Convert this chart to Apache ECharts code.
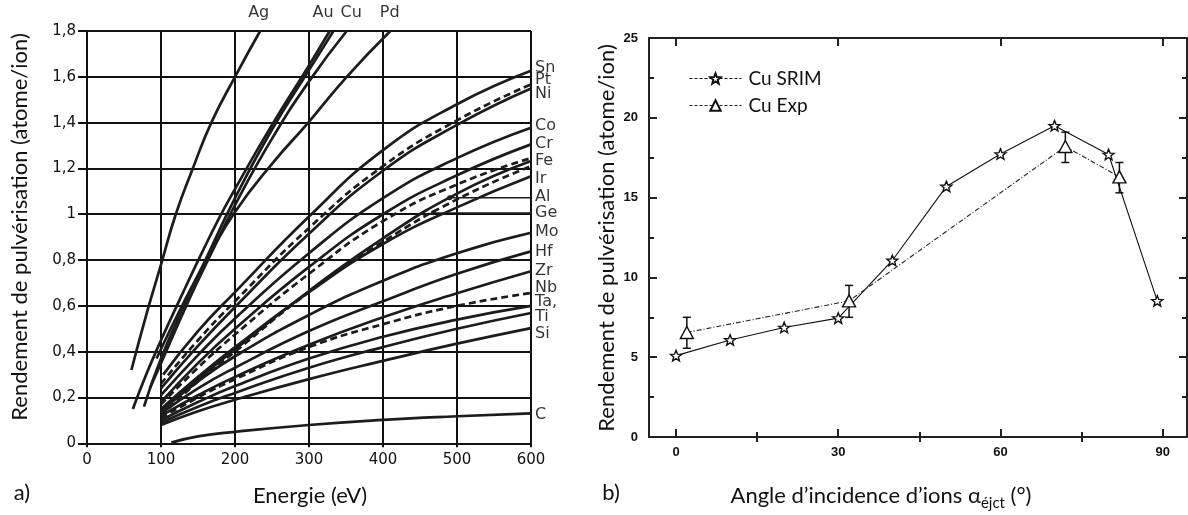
<!DOCTYPE html>
<html><head><meta charset="utf-8">
<script src="https://cdn.jsdelivr.net/npm/echarts@6/dist/echarts.min.js"></script>
<style>html,body{margin:0;padding:0;background:#fff}#c{width:1188px;height:515px}</style>
</head><body><div id="c"></div>
<script>
// ---------- Panel a) : sputtering yield vs ion energy ----------
const energyTicks = [0, 100, 200, 300, 400, 500, 600];
const yieldTicksA = [0, 0.2, 0.4, 0.6, 0.8, 1, 1.2, 1.4, 1.6, 1.8];

const curveAg  = [[60,0.32],[80,0.56],[100,0.78],[120,1.0],[143,1.2],[168,1.4],[200,1.6],[234,1.8]];
const curveAu  = [[62,0.15],[80,0.30],[100,0.45],[130,0.66],[155,0.83],[178,0.98],[200,1.11],[250,1.39],[300,1.65],[328,1.8]];
const curveAu2 = [[77,0.16],[100,0.37],[135,0.63],[160,0.80],[200,1.07],[250,1.37],[300,1.63],[333,1.8]];
const curveCu  = [[85,0.24],[100,0.35],[137,0.62],[165,0.81],[200,1.04],[250,1.33],[300,1.58],[351,1.8]];
const curvePd  = [[94,0.37],[133,0.63],[165,0.82],[200,1.01],[250,1.22],[299,1.40],[351,1.60],[410,1.8]];
const curveSn  = [[103,0.30],[150,0.49],[200,0.66],[300,0.99],[400,1.28],[500,1.48],[600,1.626]];
const curvePt  = [[100,0.26],[150,0.45],[200,0.62],[300,0.94],[400,1.21],[500,1.41],[600,1.567]];
const curveNi  = [[100,0.24],[150,0.425],[200,0.595],[300,0.915],[400,1.19],[500,1.39],[600,1.549]];
const curveCo  = [[100,0.21],[150,0.385],[200,0.545],[300,0.83],[400,1.07],[500,1.245],[600,1.378]];
const curveCr  = [[100,0.18],[150,0.35],[200,0.50],[300,0.77],[400,1.0],[500,1.17],[600,1.305]];
const curveFe  = [[100,0.17],[150,0.33],[200,0.475],[300,0.74],[400,0.97],[500,1.13],[600,1.245]];
const curveAl  = [[100,0.14],[150,0.28],[200,0.41],[300,0.665],[400,0.895],[500,1.09],[600,1.232]];
const curveIr  = [[100,0.15],[150,0.29],[200,0.42],[300,0.66],[400,0.87],[500,1.03],[600,1.166]];
const curveGe  = [[100,0.12],[150,0.27],[200,0.40],[300,0.66],[400,0.88],[500,1.065],[600,1.21]];
const curveMo  = [[100,0.14],[150,0.27],[200,0.38],[300,0.56],[400,0.71],[500,0.83],[600,0.919]];
const curveHf  = [[100,0.13],[150,0.24],[200,0.33],[300,0.49],[400,0.62],[500,0.74],[600,0.838]];
const curveZr  = [[100,0.12],[150,0.21],[200,0.29],[300,0.43],[400,0.55],[500,0.655],[600,0.751]];
const curveNb  = [[100,0.11],[150,0.20],[200,0.28],[300,0.42],[400,0.52],[500,0.60],[600,0.656]];
const curveTa  = [[100,0.10],[150,0.18],[200,0.25],[300,0.37],[400,0.465],[500,0.54],[600,0.60]];
const curveTi  = [[100,0.09],[150,0.16],[200,0.22],[300,0.33],[400,0.42],[500,0.50],[600,0.569]];
const curveSi  = [[100,0.08],[150,0.14],[200,0.19],[300,0.28],[400,0.36],[500,0.435],[600,0.503]];
const curveC   = [[114,0.003],[150,0.03],[200,0.05],[300,0.08],[400,0.102],[500,0.118],[600,0.131]];

const sideLabels  = ['Sn','Pt','Ni','Co','Cr','Fe','Ir','Al','Ge','Mo','Hf','Zr','Nb','Ta,','Ti','Si','C'];
const sideLabelY  = [1.640,1.585,1.524,1.388,1.309,1.232,1.156,1.076,1.006,0.922,0.838,0.751,0.678,0.619,0.551,0.478,0.124];
const topLabels   = ['Ag','Au','Cu','Pd'];
const topLabelE   = [232,319,357,409];
const topLabelY   = 1.878;
const leaderAl    = [[490,1.072],[600,1.072]];
const leaderGe    = [[468,1.006],[600,1.006]];

// ---------- Panel b) : yield vs incidence angle ----------
const angleTicks  = [0, 30, 60, 90];
const angleMinor  = [15, 45, 75];
const srimAngle   = [0, 10, 20, 30, 40, 50, 60, 70, 80, 89];
const srimYield   = [5.1, 6.08, 6.86, 7.45, 11.06, 15.7, 17.73, 19.5, 17.7, 8.53];
const expAngle    = [2, 32, 72, 82];
const expYield    = [6.55, 8.53, 18.2, 16.3];
const expErrLow   = [5.56, 7.5, 17.2, 15.3];
const expErrHigh  = [7.5, 9.5, 19.1, 17.2];

const chart = echarts.init(document.getElementById('c'), null, {renderer:'canvas'});

const curveList = [
  ['Ag',curveAg,false],['Au',curveAu,false],['Au2',curveAu2,false],['Cu',curveCu,false],['Pd',curvePd,false],
  ['Sn',curveSn,false],['Pt',curvePt,true],['Ni',curveNi,false],['Co',curveCo,false],['Cr',curveCr,false],
  ['Fe',curveFe,true],['Al',curveAl,false],['Ir',curveIr,false],['Ge',curveGe,true],['Mo',curveMo,false],
  ['Hf',curveHf,false],['Zr',curveZr,false],['Nb',curveNb,true],['Ta',curveTa,false],['Ti',curveTi,false],
  ['Si',curveSi,false],['C',curveC,false]
];

const series = [];
curveList.forEach(([n, d, dashed]) => {
  series.push({
    name: n, type: 'line', xAxisIndex: 0, yAxisIndex: 0, data: d,
    smooth: 0.5, showSymbol: false, symbol: 'none', silent: true, z: 3,
    lineStyle: {color: '#1c1c1c', width: 2.7, type: dashed ? [7, 4] : 'solid'}
  });
});
[leaderAl, leaderGe].forEach((d, i) => {
  series.push({
    name: 'leader' + i, type: 'line', xAxisIndex: 0, yAxisIndex: 0, silent: true, z: 4,
    data: [{value: d[0], symbol: 'circle', symbolSize: 5}, {value: d[1], symbol: 'none'}],
    showSymbol: true, itemStyle: {color: '#1c1c1c'},
    lineStyle: {color: '#1c1c1c', width: 1.3}
  });
});
series.push({
  name: 'sideLabels', type: 'scatter', xAxisIndex: 0, yAxisIndex: 0, symbolSize: 0, clip: false, silent: true,
  data: sideLabels.map((t, i) => ({value: [600, sideLabelY[i]], name: t})),
  label: {show: true, position: 'right', distance: 4, formatter: p => p.name,
          fontFamily: 'DejaVu Sans', fontSize: 16, color: '#000'}
});
series.push({
  name: 'topLabels', type: 'scatter', xAxisIndex: 0, yAxisIndex: 0, symbolSize: 0, clip: false, silent: true,
  data: topLabels.map((t, i) => ({value: [topLabelE[i], topLabelY], name: t})),
  label: {show: true, position: 'inside', formatter: p => p.name,
          fontFamily: 'DejaVu Sans', fontSize: 16, color: '#000'}
});

// panel b series
const starPath = 'path://M0,-10 L2.6,-3.4 L9.5,-3.1 L4.1,1.3 L5.9,8.1 L0,4.2 L-5.9,8.1 L-4.1,1.3 L-9.5,-3.1 L-2.6,-3.4 Z';
series.push({
  name: 'Cu SRIM', type: 'line', xAxisIndex: 1, yAxisIndex: 1,
  data: srimAngle.map((a, i) => [a, srimYield[i]]),
  symbol: starPath, symbolKeepAspect: true, symbolSize: 11, showSymbol: true, z: 5,
  itemStyle: {color: '#fff', borderColor: '#111', borderWidth: 1.4},
  lineStyle: {color: '#111', width: 1.1, type: 'solid'}
});
series.push({
  name: 'errbars', type: 'custom', xAxisIndex: 1, yAxisIndex: 1, silent: true, z: 3,
  data: expAngle.map((a, i) => [a, expErrLow[i], expErrHigh[i]]),
  renderItem: function (params, api) {
    const x = api.value(0);
    const lo = api.coord([x, api.value(1)]);
    const hi = api.coord([x, api.value(2)]);
    const w = 4;
    const st = {stroke: '#111', lineWidth: 1.5};
    return {type: 'group', children: [
      {type: 'line', shape: {x1: lo[0], y1: lo[1], x2: hi[0], y2: hi[1]}, style: st},
      {type: 'line', shape: {x1: lo[0]-w, y1: lo[1], x2: lo[0]+w, y2: lo[1]}, style: st},
      {type: 'line', shape: {x1: hi[0]-w, y1: hi[1], x2: hi[0]+w, y2: hi[1]}, style: st}
    ]};
  }
});
series.push({
  name: 'Cu Exp', type: 'line', xAxisIndex: 1, yAxisIndex: 1,
  data: expAngle.map((a, i) => [a, expYield[i]]),
  symbol: 'triangle', symbolSize: [13, 12], showSymbol: true, z: 6,
  itemStyle: {color: '#fff', borderColor: '#111', borderWidth: 1.4},
  lineStyle: {color: '#222', width: 1.1, type: [5, 2, 1, 2]}
});

const font = 'Lato';
const option = {
  animation: false,
  backgroundColor: '#fff',
  grid: [
    {left: 87, top: 31, width: 444, height: 412.3, containLabel: false},
    {left: 649, top: 38, width: 538, height: 399, containLabel: false}
  ],
  xAxis: [
    {gridIndex: 0, type: 'value', min: 0, max: 600, interval: 100,
     axisLine: {show: true, onZero: false, lineStyle: {color: '#111', width: 2}},
     axisTick: {show: true, inside: false, length: 4, lineStyle: {color: '#111', width: 2}},
     axisLabel: {margin: 9, color: '#111', fontFamily: 'DejaVu Sans', fontSize: 15},
     splitLine: {show: true, lineStyle: {color: '#111', width: 2}}},
    {gridIndex: 1, type: 'value', min: -5, max: 94.5, position: 'bottom',
     axisLine: {show: true, onZero: false, lineStyle: {color: '#222', width: 2}},
     axisTick: {show: true, inside: true, length: 8, customValues: angleTicks, lineStyle: {color: '#222', width: 2}},
     axisLabel: {show: true, customValues: angleTicks, margin: 9, color: '#111', fontFamily: 'Liberation Sans', fontWeight: 'bold', fontSize: 13},
     splitLine: {show: false}},
    {gridIndex: 1, type: 'value', min: -5, max: 94.5, position: 'bottom',
     axisLine: {show: false},
     axisTick: {show: true, inside: true, length: 5, customValues: angleMinor, lineStyle: {color: '#222', width: 2}},
     axisLabel: {show: false}, splitLine: {show: false}},
    {gridIndex: 1, type: 'value', min: -5, max: 94.5, position: 'top',
     axisLine: {show: true, onZero: false, lineStyle: {color: '#222', width: 2}},
     axisTick: {show: true, inside: true, length: 8, customValues: angleTicks, lineStyle: {color: '#222', width: 2}},
     axisLabel: {show: false}, splitLine: {show: false}},
    {gridIndex: 1, type: 'value', min: -5, max: 94.5, position: 'top',
     axisLine: {show: false},
     axisTick: {show: true, inside: true, length: 5, customValues: angleMinor, lineStyle: {color: '#222', width: 2}},
     axisLabel: {show: false}, splitLine: {show: false}}
  ],
  yAxis: [
    {gridIndex: 0, type: 'value', min: 0, max: 1.8, interval: 0.2,
     axisLine: {show: true, onZero: false, lineStyle: {color: '#111', width: 2}},
     axisTick: {show: true, inside: false, length: 9, lineStyle: {color: '#111', width: 2}},
     axisLabel: {margin: 11, color: '#111', fontFamily: 'DejaVu Sans', fontSize: 15,
                 formatter: v => String(Math.round(v * 10) / 10).replace('.', ',')},
     splitLine: {show: true, lineStyle: {color: '#111', width: 2}}},
    {gridIndex: 1, type: 'value', min: 0, max: 25, interval: 5, position: 'left',
     axisLine: {show: true, onZero: false, lineStyle: {color: '#222', width: 2}},
     axisTick: {show: true, inside: true, length: 8, lineStyle: {color: '#222', width: 2}},
     minorTick: {show: true, splitNumber: 2, length: 5, lineStyle: {color: '#222', width: 2}},
     axisLabel: {margin: 11, color: '#111', fontFamily: 'Liberation Sans', fontWeight: 'bold', fontSize: 13},
     splitLine: {show: false}},
    {gridIndex: 1, type: 'value', min: 0, max: 25, interval: 5, position: 'right',
     axisLine: {show: true, onZero: false, lineStyle: {color: '#222', width: 2}},
     axisTick: {show: true, inside: true, length: 8, lineStyle: {color: '#222', width: 2}},
     minorTick: {show: true, splitNumber: 2, length: 5, lineStyle: {color: '#222', width: 2}},
     axisLabel: {show: false}, splitLine: {show: false}}
  ],
  legend: {
    data: ['Cu SRIM', 'Cu Exp'], orient: 'vertical', left: 684, top: 64, itemGap: 8,
    itemWidth: 52, itemHeight: 13, selectedMode: false,
    lineStyle: {type: [3, 2], width: 1},
    textStyle: {fontFamily: font, fontSize: 19, color: '#111', padding: [0, 0, 0, 2]}
  },
  graphic: [
    {type: 'text', x: 20, y: 227, rotation: Math.PI / 2,
     style: {text: 'Rendement de pulvérisation (atome/ion)', fontFamily: font, fontSize: 22, fill: '#111', align: 'center', verticalAlign: 'middle'}},
    {type: 'text', x: 607, y: 238, rotation: Math.PI / 2,
     style: {text: 'Rendement de pulvérisation (atome/ion)', fontFamily: font, fontSize: 22, fill: '#111', align: 'center', verticalAlign: 'middle'}},
    {type: 'text', x: 310, y: 496,
     style: {text: 'Energie (eV)', fontFamily: font, fontSize: 22, fill: '#111', align: 'center', verticalAlign: 'middle'}},
    {type: 'text', x: 881, y: 496,
     style: {text: 'Angle d’incidence d’ions α{s|éjct} (°)', fontFamily: font, fontSize: 22, fill: '#111', align: 'center', verticalAlign: 'middle',
             lineHeight: 30, rich: {s: {fontFamily: font, fontSize: 15, fill: '#111', lineHeight: 15, verticalAlign: 'bottom'}}}},
    {type: 'text', x: 22, y: 493,
     style: {text: 'a)', fontFamily: font, fontSize: 22, fill: '#111', align: 'center', verticalAlign: 'middle'}},
    {type: 'text', x: 611, y: 493,
     style: {text: 'b)', fontFamily: font, fontSize: 22, fill: '#111', align: 'center', verticalAlign: 'middle'}}
  ],
  series: series
};
chart.setOption(option);
</script>
</body></html>
